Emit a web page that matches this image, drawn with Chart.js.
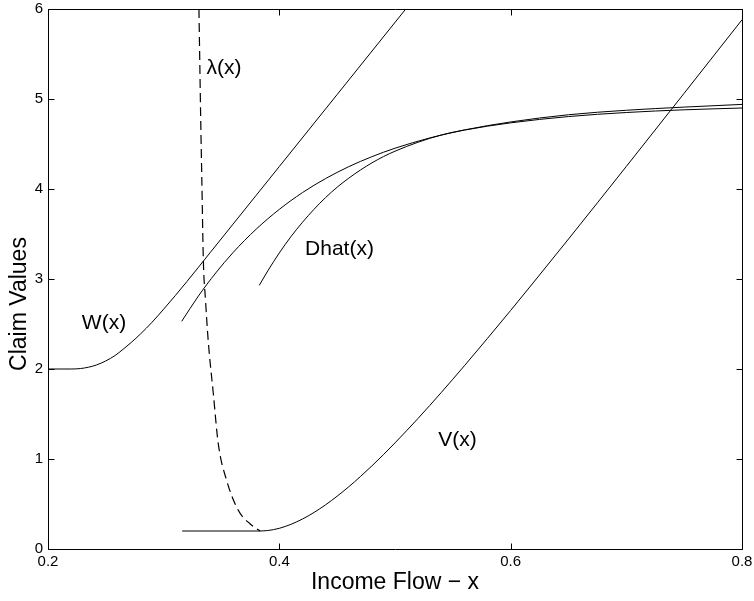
<!DOCTYPE html>
<html>
<head>
<meta charset="utf-8">
<script src="https://cdn.jsdelivr.net/npm/chart.js@4.4.1/dist/chart.umd.min.js"></script>
<style>
  html, body { margin: 0; padding: 0; background: #fff; }
  #wrap { width: 754px; height: 601px; }
</style>
</head>
<body>
<div id="wrap"><canvas id="c" width="754" height="601"></canvas></div>
<script>
// Tick values for both axes
const xTicks = [0.2, 0.4, 0.6, 0.8];
const yTicks = [0, 1, 2, 3, 4, 5, 6];

// W(x)
const wX = [0.2, 0.22, 0.228, 0.235, 0.242, 0.25, 0.258, 0.265, 0.272, 0.28, 0.29, 0.30, 0.31, 0.32, 0.34, 0.36, 0.38, 0.40, 0.45, 0.5093];
const wY = [2.0, 2.0, 2.005, 2.02, 2.045, 2.09, 2.15, 2.22, 2.295, 2.39, 2.52, 2.665, 2.815, 2.97, 3.29, 3.61, 3.93, 4.25, 5.05, 6.0];

// D(x), the upper of the two saturating curves
const dX = [0.3156, 0.33, 0.345, 0.36, 0.38, 0.40, 0.42, 0.44, 0.46, 0.48, 0.50, 0.53, 0.56, 0.60, 0.65, 0.70, 0.75, 0.80];
const dY = [2.53, 2.81, 3.067, 3.294, 3.554, 3.774, 3.96, 4.116, 4.248, 4.359, 4.453, 4.567, 4.656, 4.745, 4.825, 4.875, 4.91, 4.94];

// Dhat(x)
const hX = [0.3827, 0.39, 0.40, 0.41, 0.42, 0.43, 0.44, 0.45, 0.46, 0.47, 0.48, 0.49, 0.50, 0.52, 0.54, 0.56, 0.60, 0.65, 0.70, 0.75, 0.80];
const hY = [2.93, 3.09, 3.29, 3.47, 3.63, 3.775, 3.905, 4.02, 4.12, 4.21, 4.29, 4.36, 4.42, 4.52, 4.60, 4.655, 4.735, 4.805, 4.85, 4.88, 4.90];

// V(x)
const vX = [0.3833, 0.39, 0.40, 0.41, 0.42, 0.43, 0.44, 0.45, 0.46, 0.47, 0.48, 0.49, 0.50, 0.52, 0.54, 0.56, 0.58, 0.60, 0.62, 0.65, 0.70, 0.75, 0.80];
const vY = [0.20, 0.205, 0.23, 0.274, 0.333, 0.406, 0.491, 0.587, 0.691, 0.804, 0.923, 1.048, 1.179, 1.452, 1.739, 2.036, 2.341, 2.651, 2.966, 3.444, 4.251, 5.064, 5.88];

// lambda(x), dashed boundary
const lX = [0.3305, 0.3313, 0.3320, 0.3330, 0.3343, 0.3362, 0.3386, 0.3429, 0.3472, 0.3545, 0.3645, 0.3746, 0.3833];
const lY = [6.0, 5.35, 4.79, 4.10, 3.21, 2.76, 2.30, 1.73, 1.17, 0.76, 0.43, 0.28, 0.20];

// flat floor segment
const fX = [0.316, 0.3833];
const fY = [0.2, 0.2];

// Axis titles
const xTitle = 'Income Flow − x';
const yTitle = 'Claim Values';

const FONT = "'Liberation Sans', Arial, Helvetica, sans-serif";

const pts = (xs, ys) => xs.map((x, i) => ({ x, y: ys[i] }));

// Curve captions, anchored in data units
const curveLabels = [
  { text: 'λ(x)',    at: [0.3522, 5.34] },
  { text: 'W(x)',    at: [0.2484, 2.51] },
  { text: 'Dhat(x)', at: [0.4520, 3.33] },
  { text: 'V(x)',    at: [0.5540, 1.21] }
];

// Box around the plot with inward ticks on all four sides, captions and axis titles
const framePlugin = {
  id: 'frame',
  afterDatasetsDraw(chart) {
    const { ctx, chartArea: a, scales: { x, y } } = chart;
    const L = Math.round(a.left) + 0.5, R = Math.round(a.right) + 0.5;
    const T = Math.round(a.top) + 0.5, B = Math.round(a.bottom) + 0.5;
    const tl = 6;
    ctx.save();
    ctx.strokeStyle = '#000';
    ctx.lineWidth = 1;
    ctx.beginPath();
    ctx.rect(L, T, R - L, B - T);
    xTicks.forEach(v => {
      const px = Math.round(x.getPixelForValue(v)) + 0.5;
      ctx.moveTo(px, B); ctx.lineTo(px, B - tl);
      ctx.moveTo(px, T); ctx.lineTo(px, T + tl);
    });
    yTicks.forEach(v => {
      const py = Math.round(y.getPixelForValue(v)) + 0.5;
      ctx.moveTo(L, py); ctx.lineTo(L + tl, py);
      ctx.moveTo(R, py); ctx.lineTo(R - tl, py);
    });
    ctx.stroke();

    ctx.fillStyle = '#000';
    ctx.textAlign = 'center';
    ctx.textBaseline = 'middle';
    ctx.font = '21px ' + FONT;
    curveLabels.forEach(l => {
      ctx.fillText(l.text, x.getPixelForValue(l.at[0]), y.getPixelForValue(l.at[1]));
    });

    ctx.font = '23px ' + FONT;
    ctx.fillText(xTitle, (a.left + a.right) / 2, a.bottom + 34);
    ctx.translate(20, (a.top + a.bottom) / 2 + 25);
    ctx.rotate(-Math.PI / 2);
    ctx.fillText(yTitle, 0, 0);
    ctx.restore();
  }
};

const line = (data, extra) => Object.assign({
  data,
  borderColor: '#000',
  borderWidth: 1,
  pointRadius: 0,
  fill: false,
  cubicInterpolationMode: 'monotone'
}, extra || {});

Chart.defaults.color = '#000';
Chart.defaults.font.family = FONT;

new Chart(document.getElementById('c'), {
  type: 'line',
  data: {
    datasets: [
      line(pts(wX, wY), { label: 'W(x)' }),
      line(pts(dX, dY), { label: 'D(x)' }),
      line(pts(hX, hY), { label: 'Dhat(x)' }),
      line(pts(vX, vY), { label: 'V(x)' }),
      line(pts(fX, fY), { label: 'floor', cubicInterpolationMode: 'default' }),
      line(pts(lX, lY), { label: 'λ(x)', borderDash: [9, 5], borderWidth: 1.2 })
    ]
  },
  options: {
    responsive: false,
    devicePixelRatio: 1,
    animation: false,
    layout: { padding: { left: 0, right: 12, top: 9, bottom: 0 } },
    plugins: {
      legend: { display: false },
      tooltip: { enabled: false }
    },
    scales: {
      x: {
        type: 'linear',
        min: 0.2,
        max: 0.8,
        afterBuildTicks: s => { s.ticks = xTicks.map(v => ({ value: v })); },
        afterFit: s => { s.height = 52; s.paddingLeft = 0; s.paddingRight = 0; },
        grid: { display: false, drawTicks: false },
        border: { display: false },
        ticks: { font: { size: 15 }, padding: 4, maxRotation: 0, callback: v => String(v) }
      },
      y: {
        type: 'linear',
        min: 0,
        max: 6,
        afterBuildTicks: s => { s.ticks = yTicks.map(v => ({ value: v })); },
        afterFit: s => { s.width = 48; s.paddingTop = 0; s.paddingBottom = 0; },
        grid: { display: false, drawTicks: false },
        border: { display: false },
        ticks: { font: { size: 15 }, padding: 5, callback: v => String(v) }
      }
    }
  },
  plugins: [framePlugin]
});
</script>
</body>
</html>
